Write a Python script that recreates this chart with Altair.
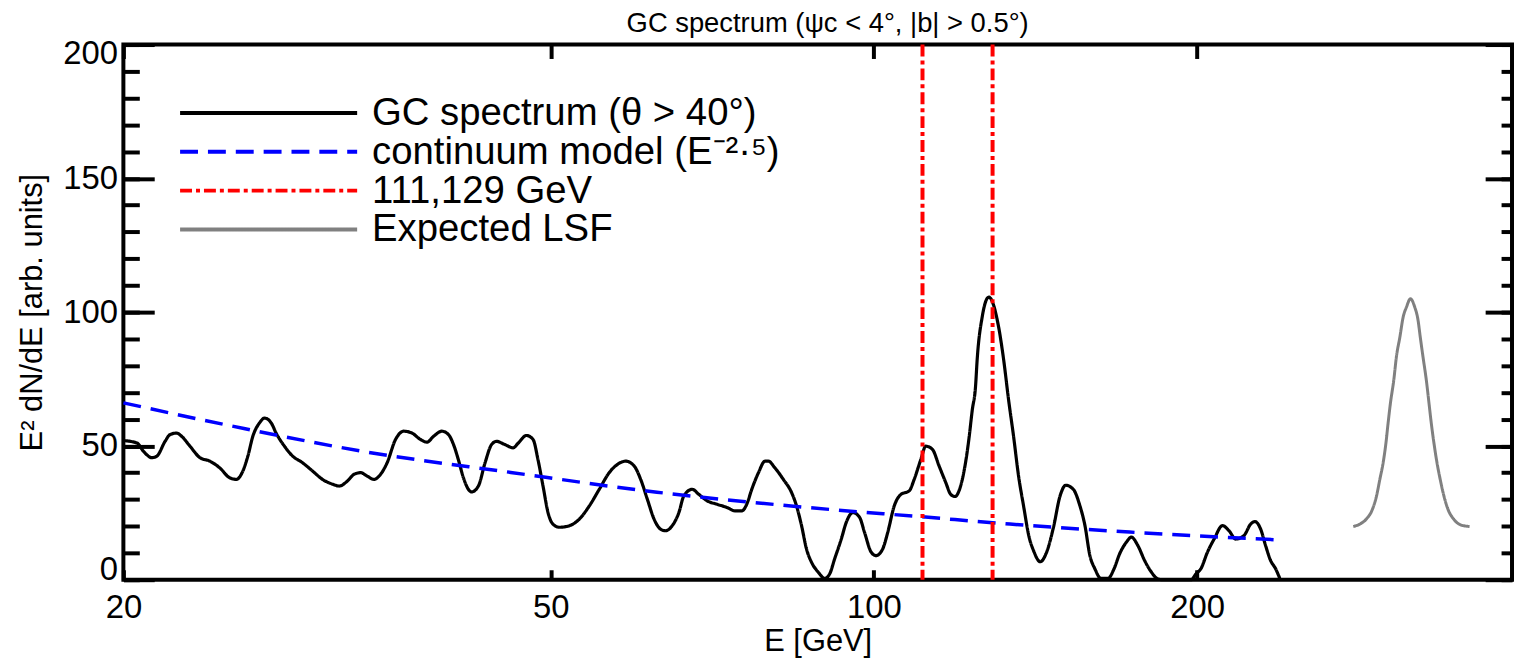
import altair as alt
import pandas as pd

FONT = "Liberation Sans"

# ---- data ----
series_names = ["GC spectrum (θ > 40°)", "continuum model (E⁻²·⁵)", "111,129 GeV", "Expected LSF"]
series_colors = ["#000000", "#0000ff", "#ff0000", "#808080"]
series_dashes = [[1, 0], [18, 10], [12, 4, 4, 4], [1, 0]]

gc_E = [20.0, 20.59, 20.88, 21.26, 21.49, 21.87, 22.10, 22.42, 22.66, 23.07,
        23.57, 24.08, 24.59, 25.12, 25.48, 25.84, 26.12, 26.40, 26.78, 27.07,
        27.46, 27.75, 28.25, 28.75, 29.37, 30.01, 30.65, 31.32, 31.77, 32.34,
        32.80, 33.27, 33.74, 34.23, 34.72, 35.21, 35.85, 36.49, 37.14, 37.82,
        38.35, 38.90, 39.60, 40.17, 40.60, 41.02, 41.47, 41.91, 42.20, 42.82,
        43.44, 44.05, 44.52, 45.33, 46.14, 46.63, 47.47, 48.15, 48.66, 49.19,
        49.72, 50.24, 50.96, 52.06, 53.19, 54.33, 55.50, 56.69, 57.71, 58.74,
        59.81, 60.65, 61.52, 62.41, 63.29, 63.98, 64.90, 65.83, 66.53, 67.73,
        68.70, 69.93, 71.44, 72.97, 74.28, 75.34, 76.14, 76.97, 78.08, 79.19,
        79.75, 80.88, 82.35, 83.82, 84.72, 85.64, 86.55, 87.47, 88.73, 89.99,
        90.97, 91.94, 93.26, 94.25, 95.61, 96.99, 98.02, 99.43, 100.47, 101.92,
        103.03, 104.48, 105.99, 107.89, 109.04, 110.60, 111.78, 113.39, 115.02, 116.68,
        117.92, 119.02, 120.45, 121.76, 122.60, 123.51, 124.37, 124.8, 126.16, 127.95,
        130.69, 132.11, 133.51, 134.94, 136.40, 137.86, 139.5, 140.84, 142.87, 144.92,
        146.98, 149.09, 150.92, 153.37, 155.58, 157.27, 158.95, 160.64, 162.73, 165.26,
        167.40, 169.42, 171.86, 173.73, 176.19, 178.72, 181.30, 183.87, 185.74, 197.53,
        199.54, 201.66, 204.52, 207.47, 211.18, 214.21, 217.30, 221.19, 224.38, 226.46,
        229.24, 231.69, 234.16, 236.70, 238.82]
gc_val = [52.0, 51.1, 48.0, 45.6, 46.2, 51.7, 54.2, 54.8, 53.6, 49.9,
          45.6, 44.3, 41.8, 38.1, 37.5, 40.6, 46.2, 53.6, 58.6, 60.4,
          58.6, 54.8, 49.9, 46.2, 43.7, 40.6, 37.5, 35.7, 35.0, 36.9,
          39.4, 40.0, 38.7, 37.5, 39.4, 43.7, 52.4, 55.5, 54.8, 52.4,
          51.4, 53.6, 55.5, 54.2, 50.5, 44.9, 38.1, 33.8, 32.8, 35.0,
          43.7, 50.5, 51.7, 50.5, 49.3, 51.0, 53.9, 52.4, 44.9, 35.0,
          25.1, 20.8, 19.6, 20.2, 22.7, 27.6, 33.8, 40.0, 43.1, 44.3,
          42.5, 37.5, 30.1, 22.7, 18.9, 18.3, 20.2, 25.1, 31.3, 33.8,
          31.9, 29.5, 28.2, 27.0, 25.7, 25.7, 28.2, 33.8, 40.0, 44.3,
          44.3, 41.8, 37.5, 32.6, 27.6, 20.2, 11.5, 6.6, 2.9, 0.5,
          2.2, 7.8, 15.2, 21.4, 25.1, 23.3, 17.7, 10.3, 9.0, 11.5,
          17.7, 27.6, 31.9, 33.2, 37.5, 44.9, 49.9, 48.7, 42.5, 36.3,
          31.9, 31.1, 35.0, 44.0, 52.4, 63.5, 72.2, 82.1, 98.2, 105.6,
          94.4, 82.1, 67.2, 53.6, 38.7, 27.6, 16.0, 10.9, 6.7, 10.5,
          19.5, 31.3, 35.3, 33.8, 27.6, 20.2, 9.0, 4.1, 0.5, 0.5,
          4.1, 9.7, 14.0, 15.9, 12.7, 7.2, 2.9, 0.3, 0.0, 0.0,
          2.2, 4.1, 10.3, 15.2, 20.2, 18.3, 15.2, 16.5, 20.8, 21.7,
          18.9, 12.7, 7.2, 4.1, 0.5]

cont_E = [20.0, 25.9, 33.5, 45.9, 62.8, 86.1, 111.7, 133.9, 173.0, 240.0]
cont_val = [66.1, 56.5, 47.9, 40.1, 32.7, 27.1, 23.4, 20.8, 17.8, 14.8]

line_E = [111, 129]

lsf_E = [279.6, 283.6, 287.6, 291.4, 293.9, 296.0, 298.1, 299.9, 301.3, 302.8,
         305.0, 306.7, 309.0, 311.2, 313.4, 316.1, 319.0, 321.3, 322.8, 324.7,
         327.0, 328.9, 330.5, 332.4, 334.6, 336.9, 339.6, 342.5, 346.7, 352.4, 358.8]
lsf_val = [19.9, 20.8, 22.7, 26.4, 31.3, 37.5, 43.7, 51.1, 58.6, 66.0,
           74.7, 83.3, 90.7, 98.2, 101.9, 105.0, 101.9, 96.9, 90.7, 83.3,
           74.7, 66.0, 58.6, 51.1, 43.7, 37.5, 31.3, 26.4, 22.7, 20.4, 19.9]

x_ticks = [20, 50, 100, 200]
y_major = [0, 50, 100, 150, 200]
y_minor = list(range(0, 201, 10))

gc_df = pd.DataFrame({"E": gc_E, "value": gc_val, "series": series_names[0]})
cont_df = pd.DataFrame({"E": cont_E, "value": cont_val, "series": series_names[1]})
rule_df = pd.DataFrame({"E": line_E, "series": series_names[2]})
lsf_df = pd.DataFrame({"E": lsf_E, "value": lsf_val, "series": series_names[3]})

# ---- scales ----
xscale = alt.Scale(type="log", domain=[20, 393], nice=False)
yscale = alt.Scale(domain=[0, 200], nice=False)
cscale = alt.Scale(domain=series_names, range=series_colors)
dscale = alt.Scale(domain=series_names, range=series_dashes)

legend = alt.Legend(
    title=None, orient="none", legendX=55, legendY=51.5, direction="vertical",
    symbolType="stroke", symbolSize=31684, symbolStrokeWidth=4, symbolOffset=0,
    labelFont=FONT, labelFontSize=38.5, labelColor="black", labelOffset=13,
    labelLimit=1000, rowPadding=0, padding=0, clipHeight=34.7,
)
color_enc = alt.Color("series:N", scale=cscale, legend=legend)
dash_enc = alt.StrokeDash("series:N", scale=dscale, legend=legend)


def tick_axis(orient, values, size):
    return alt.Axis(orient=orient, values=values, grid=False, domain=False, labels=False,
                    ticks=True, tickSize=size, offset=-size, tickWidth=4,
                    tickColor="black", title=None)


x_label_axis = alt.Axis(
    orient="bottom", values=x_ticks, format="d", grid=False, domain=False,
    ticks=False, tickSize=0, labelFlush=False, labelOverlap=False,
    labelFont=FONT, labelFontSize=33, labelColor="black", labelPadding=12,
    title="E [GeV]", titleFont=FONT, titleFontSize=31, titleFontWeight="normal",
    titleColor="black", titleY=62, titleBaseline="middle",
)
y_label_axis = alt.Axis(
    orient="left", values=y_major, grid=False, domain=False, ticks=False,
    tickSize=0, labelFlush=True, labelFlushOffset=7, labelOverlap=False,
    labelFont=FONT, labelFontSize=33, labelColor="black", labelPadding=6,
    title="E² dN/dE [arb. units]", titleFont=FONT, titleFontSize=31,
    titleFontWeight="normal", titleColor="black", titleX=-91, titleY=269,
    titleAngle=270, titleBaseline="middle", titleAlign="center",
)


def xe(axis):
    return alt.X("E:Q", scale=xscale, axis=axis)


def ye(axis):
    return alt.Y("value:Q", scale=yscale, axis=axis)


gc = alt.Chart(gc_df).mark_line(strokeWidth=3.2, interpolate="monotone").encode(
    x=xe(x_label_axis), y=ye(y_label_axis), color=color_enc, strokeDash=dash_enc)
cont = alt.Chart(cont_df).mark_line(strokeWidth=3.5, interpolate="monotone").encode(
    x=xe(tick_axis("bottom", x_ticks, 10)), y=ye(tick_axis("left", y_major, 31)),
    color=color_enc, strokeDash=dash_enc)
rules = alt.Chart(rule_df).mark_rule(strokeWidth=4).encode(
    x=alt.X("E:Q", scale=xscale, axis=None), color=color_enc, strokeDash=dash_enc)
lsf = alt.Chart(lsf_df).mark_line(strokeWidth=3, interpolate="monotone").encode(
    x=xe(tick_axis("top", x_ticks, 14)), y=ye(tick_axis("left", y_minor, 16)),
    color=color_enc, strokeDash=dash_enc)
d1 = alt.Chart(gc_df).mark_point(opacity=0).encode(
    x=xe(None), y=ye(tick_axis("right", y_major, 27)))
d2 = alt.Chart(gc_df).mark_point(opacity=0).encode(
    x=xe(None), y=ye(tick_axis("right", y_minor, 11)))

chart = alt.layer(gc, cont, rules, lsf, d1, d2).resolve_axis(
    x="independent", y="independent"
).properties(
    width=1396, height=538,
    title=alt.TitleParams(text="GC spectrum (ψc < 4°, |b| > 0.5°)", font=FONT,
                          fontSize=27.5, fontWeight="normal", color="black",
                          anchor="middle", offset=5, dy=5, dx=10, frame="group"),
    autosize=alt.AutoSizeParams(type="none"),
    padding={"left": 116, "top": 35, "right": 2, "bottom": 83},
).configure_view(stroke="black", strokeWidth=4)

chart.save("out.html", embed_options={"renderer": "svg", "actions": False})
